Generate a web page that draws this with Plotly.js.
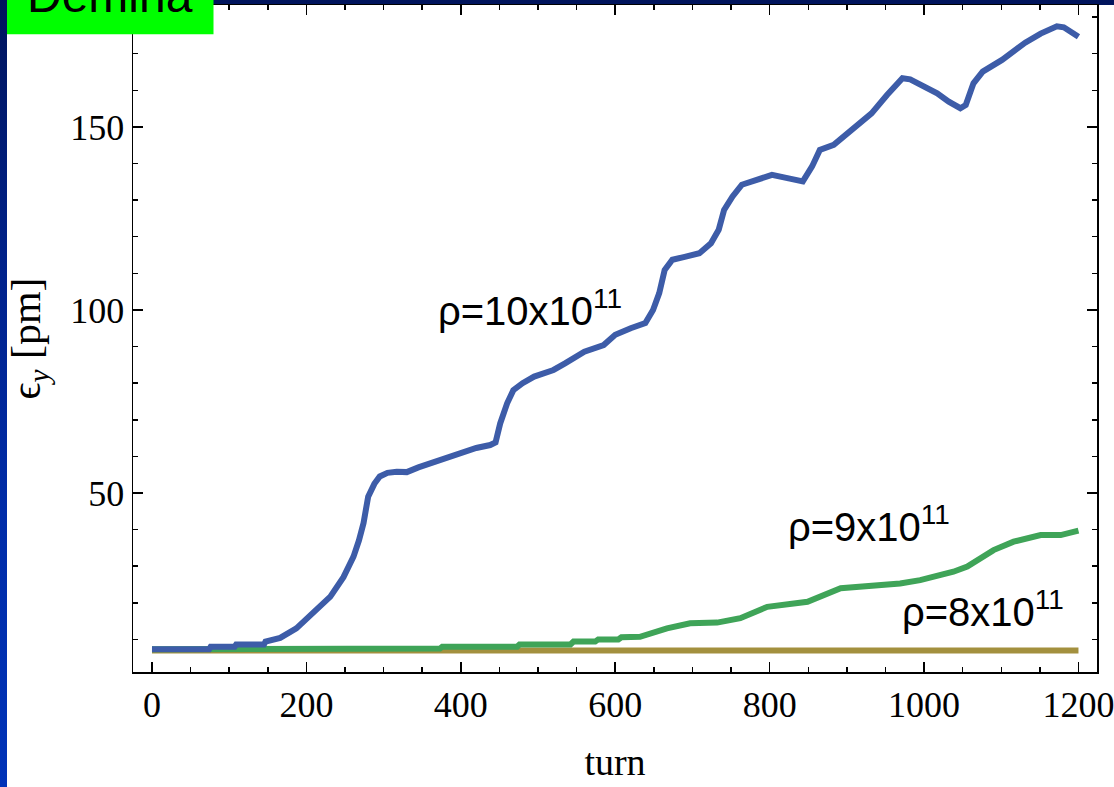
<!DOCTYPE html>
<html>
<head>
<meta charset="utf-8">
<script src="https://cdn.plot.ly/plotly-3.0.1.min.js"></script>
<style>
  html, body { margin:0; padding:0; width:1114px; height:787px; overflow:hidden;
    background: linear-gradient(to bottom, #00145c 0%, #00228c 35%, #002ca8 65%, #0033b8 100%); }
  #chart { width:1114px; height:787px; }
</style>
</head>
<body>
<div id="chart"></div>
<script>
// ---- data ----
const turnsBlue = [0, 74, 76, 107, 109, 145, 147, 166, 187, 209, 231, 248, 261, 268, 274, 280, 288, 295, 305, 317, 330, 345, 360, 382, 403, 420, 438, 445, 451, 460, 468, 480, 495, 520, 535, 560, 585, 600, 620, 639, 649, 657, 664, 674, 690, 709, 724, 734, 741, 752, 764, 783, 803, 823, 843, 855, 865, 883, 907, 932, 952, 972, 982, 1000, 1017, 1032, 1047, 1054, 1064, 1076, 1101, 1131, 1151, 1172, 1181, 1200];
const emitBlue  = [7.3, 7.3, 8.0, 8.0, 8.6, 8.6, 9.4, 10.4, 13, 17.2, 21.7, 27, 32.6, 37, 41.8, 49, 52.5, 54.5, 55.5, 55.8, 55.7, 57, 58.1, 59.5, 61.3, 62.3, 63.1, 63.8, 69, 74.5, 78.1, 80, 81.8, 83.6, 85.4, 88.6, 90.4, 93.2, 95, 96.4, 100, 104.6, 110.9, 113.7, 114.5, 115.5, 118.2, 121.9, 127.3, 131, 134.2, 135.5, 136.9, 136, 135.1, 139.2, 143.7, 145.1, 149.2, 153.7, 158.7, 163.3, 163, 161, 159.2, 156.9, 155.1, 156, 161.9, 165.1, 168.3, 173, 175.5, 177.5, 177.2, 174.6];

const turnsGreen = [0, 108, 110, 373, 376, 473, 476, 542, 546, 574, 578, 604, 608, 632, 667, 697, 732, 762, 797, 814, 849, 892, 926, 969, 995, 1038, 1056, 1090, 1116, 1151, 1177, 1200];
const emitGreen  = [7.3, 7.3, 7.5, 7.5, 8.0, 8.0, 8.6, 8.6, 9.4, 9.4, 10.0, 10.0, 10.6, 10.7, 13, 14.4, 14.6, 15.8, 18.9, 19.4, 20.3, 24, 24.6, 25.3, 26.2, 28.5, 29.9, 34.4, 36.7, 38.5, 38.5, 39.7];

const turnsBrown = [0, 1200];
const emitBrown  = [7.0, 7.0];

const labelTexts = ["ρ=10x10<sup>11</sup>", "ρ=9x10<sup>11</sup>", "ρ=8x10<sup>11</sup>"];
const labelTurns = [489, 929, 1076];
const labelEmits = [100.5, 41.5, 18.2];

const xTickVals = [0, 200, 400, 600, 800, 1000, 1200];
const yTickVals = [50, 100, 150];
const badgeText = "Demina";

// ---- chart ----
const serif = "Liberation Serif, Times New Roman, serif";
const sans = "Liberation Sans, Arial, sans-serif";

const traces = [
  {x: turnsBrown, y: emitBrown, mode: "lines", line: {color: "#a3903e", width: 6}, hoverinfo: "skip"},
  {x: turnsGreen, y: emitGreen, mode: "lines", line: {color: "#3fa458", width: 6}, hoverinfo: "skip"},
  {x: turnsBlue, y: emitBlue, mode: "lines", line: {color: "#3d5ca8", width: 6}, hoverinfo: "skip"}
];

const annotations = labelTexts.map((t, i) => ({
  text: t, x: labelTurns[i], y: labelEmits[i], xref: "x", yref: "y",
  showarrow: false, xanchor: "center", yanchor: "middle",
  font: {family: sans, size: 40, color: "#000"}
}));
annotations.push({
  text: badgeText, xref: "paper", yref: "paper",
  x: (110 - 133) / 964, y: (672 + 4) / 667, xanchor: "center", yanchor: "middle",
  showarrow: false, font: {family: sans, size: 48, color: "#000"}
});

const layout = {
  width: 1114, height: 787,
  margin: {l: 133, r: 17, t: 5, b: 115},
  paper_bgcolor: "rgba(0,0,0,0)",
  plot_bgcolor: "#ffffff",
  showlegend: false,
  xaxis: {
    range: [-24.6, 1224], tickvals: xTickVals, ticks: "inside", ticklen: 10, tickwidth: 1.5,
    tickcolor: "#000", showline: true, linecolor: "#000", linewidth: 1.5, mirror: "ticks",
    showgrid: false, zeroline: false, ticklabeloverflow: "allow",
    minor: {ticks: "inside", ticklen: 5, tickwidth: 1.5, tickcolor: "#000", dtick: 50, tick0: 0, showgrid: false},
    tickfont: {family: serif, size: 36, color: "#000"},
    title: {text: "turn", font: {family: serif, size: 38, color: "#000"}, standoff: 24}
  },
  yaxis: {
    range: [1.1, 183.3], tickvals: yTickVals, ticks: "inside", ticklen: 10, tickwidth: 1.5,
    tickcolor: "#000", showline: true, linecolor: "#000", linewidth: 1.5, mirror: "ticks",
    showgrid: false, zeroline: false,
    minor: {ticks: "inside", ticklen: 5, tickwidth: 1.5, tickcolor: "#000", dtick: 10, tick0: 0, showgrid: false},
    tickfont: {family: serif, size: 36, color: "#000"},
    title: {text: "ϵ<sub><i>y</i></sub> [pm]", font: {family: serif, size: 42, color: "#000"}, standoff: 16}
  },
  shapes: [
    {type: "rect", xref: "paper", yref: "paper", layer: "below",
     x0: (7 - 133) / 964, x1: 1.03, y0: -0.2, y1: 1.0,
     fillcolor: "#ffffff", line: {width: 0}},
    {type: "rect", xref: "paper", yref: "paper", layer: "above",
     x0: (7 - 133) / 964, x1: (213.5 - 133) / 964, y0: (672 - 34.3) / 667, y1: 1.03,
     fillcolor: "#00ff00", line: {width: 0}}
  ],
  annotations: annotations
};

Plotly.newPlot("chart", traces, layout, {displayModeBar: false, staticPlot: true});
</script>
</body>
</html>
